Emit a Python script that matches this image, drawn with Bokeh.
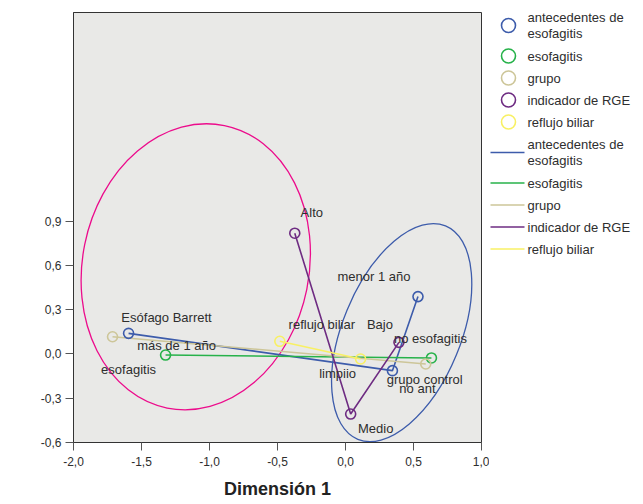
from bokeh.plotting import figure
from bokeh.layouts import row
from bokeh.models import Range1d, FixedTicker, CustomJSTickFormatter, Label, ColumnDataSource
from bokeh.core.properties import value
from bokeh.embed import file_html
from bokeh.resources import INLINE

# ---------------- data ----------------
series_names = ["antecedentes de\nesofagitis", "esofagitis", "grupo", "indicador de RGE", "reflujo biliar"]
series_colors = ["#3d5cab", "#27b24a", "#cdc699", "#6e2c82", "#f8f064"]

antecedentes_cats = ["más de 1 año", "no ant", "menor 1 año"]
antecedentes_d1 = [-1.595, 0.345, 0.533]
antecedentes_d2 = [0.140, -0.113, 0.389]

esofagitis_cats = ["esofagitis", "no esofagitis"]
esofagitis_d1 = [-1.323, 0.632]
esofagitis_d2 = [-0.007, -0.027]

grupo_cats = ["Esófago Barrett", "grupo control"]
grupo_d1 = [-1.713, 0.590]
grupo_d2 = [0.117, -0.068]

indicador_cats = ["Alto", "Medio", "Bajo"]
indicador_d1 = [-0.373, 0.038, 0.393]
indicador_d2 = [0.819, -0.407, 0.079]

reflujo_cats = ["reflujo biliar", "limpiio"]
reflujo_d1 = [-0.483, 0.111]
reflujo_d2 = [0.086, -0.034]

# cluster ellipses (centre, size in data units, rotation)
ellipse_d1 = [-1.101, 0.413]
ellipse_d2 = [0.591, 0.145]
ellipse_w = [1.666, 0.869]
ellipse_h = [1.954, 1.564]
ellipse_angle = [-0.20, -0.39]
ellipse_colors = ["#ec0c8c", "#3d5cab"]

x_ticks = [-2.0, -1.5, -1.0, -0.5, 0.0, 0.5, 1.0]
y_ticks = [-0.6, -0.3, 0.0, 0.3, 0.6, 0.9]

# label placement (screen pixel offsets from the point)
label_offsets = {
    "más de 1 año": (48, 12), "no ant": (25, 18), "menor 1 año": (-44, -20),
    "esofagitis": (-37, 14), "no esofagitis": (-1, -19),
    "Esófago Barrett": (54, -19), "grupo control": (-1, 15),
    "Alto": (17, -21), "Medio": (25, 14), "Bajo": (-19, -18),
    "reflujo biliar": (42, -17), "limpiio": (-23, 14),
}

series = [
    (antecedentes_cats, antecedentes_d1, antecedentes_d2),
    (esofagitis_cats, esofagitis_d1, esofagitis_d2),
    (grupo_cats, grupo_d1, grupo_d2),
    (indicador_cats, indicador_d1, indicador_d2),
    (reflujo_cats, reflujo_d1, reflujo_d2),
]

FONT = "Liberation Sans"
TXT = "#2e2e2e"
TOP, BOTTOM, H = 12, 60, 502

p = figure(width=489, height=H, x_range=Range1d(-2.0, 1.0), y_range=Range1d(-0.6, 2.315),
           output_backend="svg", toolbar_location=None,
           min_border_left=73, min_border_right=8, min_border_top=TOP, min_border_bottom=BOTTOM)
p.background_fill_color = "#e9e9e7"
p.border_fill_color = "white"
p.outline_line_color = "#333333"
p.grid.visible = False

p.ellipse(x=ellipse_d1, y=ellipse_d2, width=ellipse_w, height=ellipse_h, angle=ellipse_angle,
          fill_color=None, line_color=ellipse_colors, line_width=1.3)

for (cats, d1, d2), col in zip(series, series_colors):
    p.line(d1, d2, line_color=col, line_width=1.6)
for (cats, d1, d2), col in zip(series, series_colors):
    p.scatter(d1, d2, marker="circle", size=10, fill_color=None, line_color=col, line_width=1.6)

lx, ly, lt, ox, oy = [], [], [], [], []
for cats, d1, d2 in series:
    for c, a, b in zip(cats, d1, d2):
        lx.append(a); ly.append(b); lt.append(c)
        ox.append(label_offsets[c][0]); oy.append(label_offsets[c][1])
src = ColumnDataSource(dict(x=lx, y=ly, t=lt, ox=ox, oy=oy))
p.text(x="x", y="y", text="t", x_offset="ox", y_offset="oy", source=src,
       text_align="center", text_baseline="middle", text_font=value(FONT),
       text_font_size="13px", text_color=TXT)

for ax in (p.xaxis[0], p.yaxis[0]):
    ax.major_label_text_font = FONT
    ax.major_label_text_font_size = "12px"
    ax.major_label_text_color = TXT
    ax.axis_line_color = "#333333"
    ax.major_tick_line_color = "#555555"
    ax.major_tick_in = 0
    ax.major_tick_out = 8
    ax.minor_tick_line_color = None
    ax.formatter = CustomJSTickFormatter(code="return tick.toFixed(1).replace('.', ',');")
    ax.major_label_standoff = 4
p.xaxis.major_label_standoff = 6

p.xaxis.ticker = FixedTicker(ticks=x_ticks)
p.yaxis.ticker = FixedTicker(ticks=y_ticks)
p.xaxis.axis_label = "Dimensión 1"
p.xaxis.axis_label_text_font = FONT
p.xaxis.axis_label_text_font_size = "18px"
p.xaxis.axis_label_text_font_style = "bold"
p.xaxis.axis_label_text_color = "#222222"
p.xaxis.axis_label_standoff = 10

p.add_layout(Label(x=-2.378, y=0.28, text="Dimensión 2", angle=1.5708, text_align="center",
                   text_baseline="middle", text_font=FONT, text_font_size="18px",
                   text_font_style="bold", text_color="#222222"))

# ---------------- legend panel (y in page pixels) ----------------
LW = 146
lg = figure(width=LW, height=H, x_range=Range1d(0, LW), y_range=Range1d(H - BOTTOM, TOP),
            output_backend="svg", toolbar_location=None,
            min_border_left=0, min_border_right=0, min_border_top=TOP, min_border_bottom=BOTTOM)
lg.axis.visible = False
lg.grid.visible = False
lg.outline_line_color = None
lg.background_fill_color = "white"
lg.border_fill_color = "white"

items = [(n, c, "circle") for n, c in zip(series_names, series_colors)] + \
        [(n, c, "line") for n, c in zip(series_names, series_colors)]
ys = []
yc = 25.0
prev_lines = None
for n, c, kind in items:
    nl = n.count("\n") + 1
    if prev_lines is not None:
        yc += 22 + 8.5 * (prev_lines - 1) + 8.5 * (nl - 1)
    ys.append(yc)
    prev_lines = nl

for (n, c, kind), yy in zip(items, ys):
    if kind == "circle":
        lg.scatter([19], [yy], marker="circle", size=14, fill_color=None, line_color=c, line_width=1.6)
    else:
        lg.line([1, 35], [yy, yy], line_color=c, line_width=1.6)
lg.text(x=[38] * len(items), y=ys, text=[i[0] for i in items], text_align="left",
        text_baseline="middle", text_font=value(FONT), text_font_size="13px",
        text_color=TXT, text_line_height=1.1)

layout = row(p, lg)
open("out.html", "w").write(file_html(layout, INLINE))
